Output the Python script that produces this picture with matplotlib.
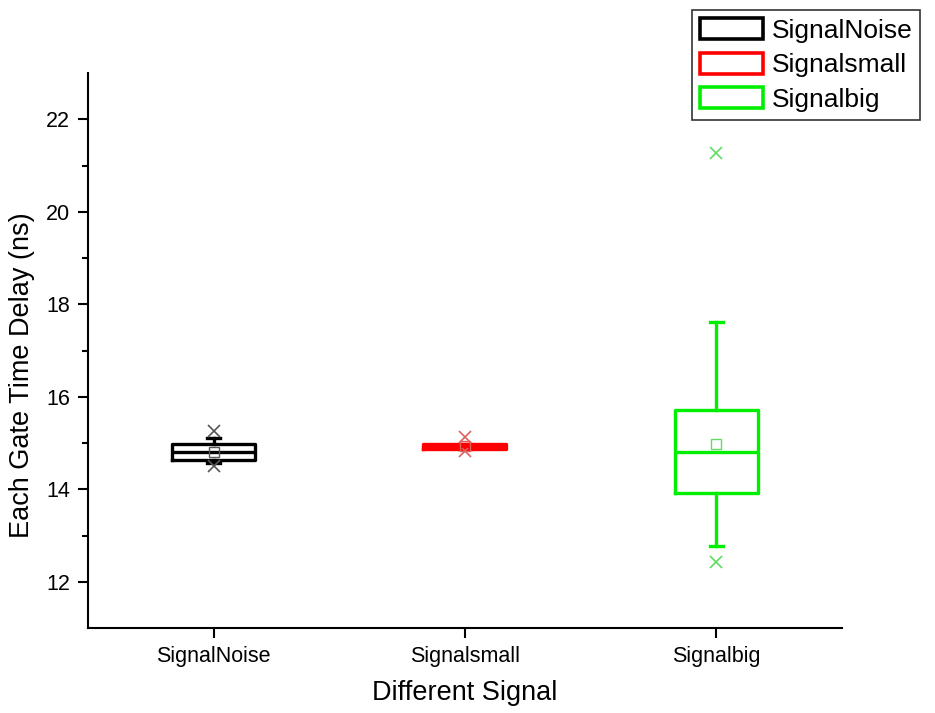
import matplotlib
matplotlib.use("Agg")
import matplotlib.pyplot as plt
from matplotlib.patches import Patch

plt.rcParams['font.family'] = ['Liberation Sans', 'DejaVu Sans']

categories = ["SignalNoise", "Signalsmall", "Signalbig"]
colors = ["#000000", "#ff0000", "#00ee00"]
flier_colors = ["#555555", "#e06060", "#60dd60"]

q1 = [14.64, 14.87, 13.93]
med = [14.80, 14.93, 14.81]
q3 = [14.97, 14.99, 15.72]
whislo = [14.57, 14.87, 12.77]
whishi = [15.10, 14.99, 17.61]
means = [14.80, 14.93, 14.97]
fliers = [[15.27, 14.50], [15.14, 14.84], [21.27, 12.42]]

fig = plt.figure(figsize=(9.35, 7.13), dpi=100)
ax = fig.add_axes([0.094, 0.119, 0.8065, 0.7786])

positions = [1, 2, 3]
for i, pos in enumerate(positions):
    stats = [dict(q1=q1[i], med=med[i], q3=q3[i], whislo=whislo[i],
                  whishi=whishi[i], mean=means[i], fliers=fliers[i],
                  label=categories[i])]
    c = colors[i]
    ax.bxp(stats, positions=[pos], widths=0.33, showmeans=True,
           showfliers=True, patch_artist=False,
           boxprops=dict(color=c, linewidth=2.4),
           medianprops=dict(color=c, linewidth=2.4),
           whiskerprops=dict(color=c, linewidth=2.4),
           capprops=dict(color=c, linewidth=2.4),
           capwidths=0.05,
           meanprops=dict(marker='s', markerfacecolor='none',
                          markeredgecolor=flier_colors[i], markersize=7,
                          markeredgewidth=1.0),
           flierprops=dict(marker='x', markeredgecolor=flier_colors[i],
                           markersize=9, markeredgewidth=1.2,
                           linestyle='none'))

ax.set_xlim(0.5, 3.5)
ax.set_ylim(11, 23)
ax.set_xticks(positions)
ax.set_xticklabels(categories)
ax.set_yticks([12, 14, 16, 18, 20, 22])
ax.set_yticks([13, 15, 17, 19, 21], minor=True)

for side in ("top", "right"):
    ax.spines[side].set_visible(False)
for side in ("left", "bottom"):
    ax.spines[side].set_linewidth(1.5)

ax.tick_params(axis='both', which='major', direction='out', length=7,
               width=1.5, labelsize=15.5, pad=6)
ax.tick_params(axis='y', which='minor', direction='out', length=4, width=1.5)

ax.set_xlabel("Different Signal", fontsize=19.5, labelpad=9)
ax.set_ylabel("Each Gate Time Delay (ns)", fontsize=19.5, labelpad=8, y=0.455)

handles = [Patch(facecolor='white', edgecolor=c, linewidth=2.6) for c in colors]
leg = fig.legend(handles, categories, loc='upper right',
                 bbox_to_anchor=(0.984, 0.986), fontsize=19, frameon=True,
                 fancybox=False, edgecolor='black', handlelength=2.4,
                 handleheight=0.85, borderpad=0.3, labelspacing=0.38,
                 handletextpad=0.3, borderaxespad=0)
leg.get_frame().set_linewidth(1.2)

fig.savefig("out.png", dpi=100, facecolor='white')
